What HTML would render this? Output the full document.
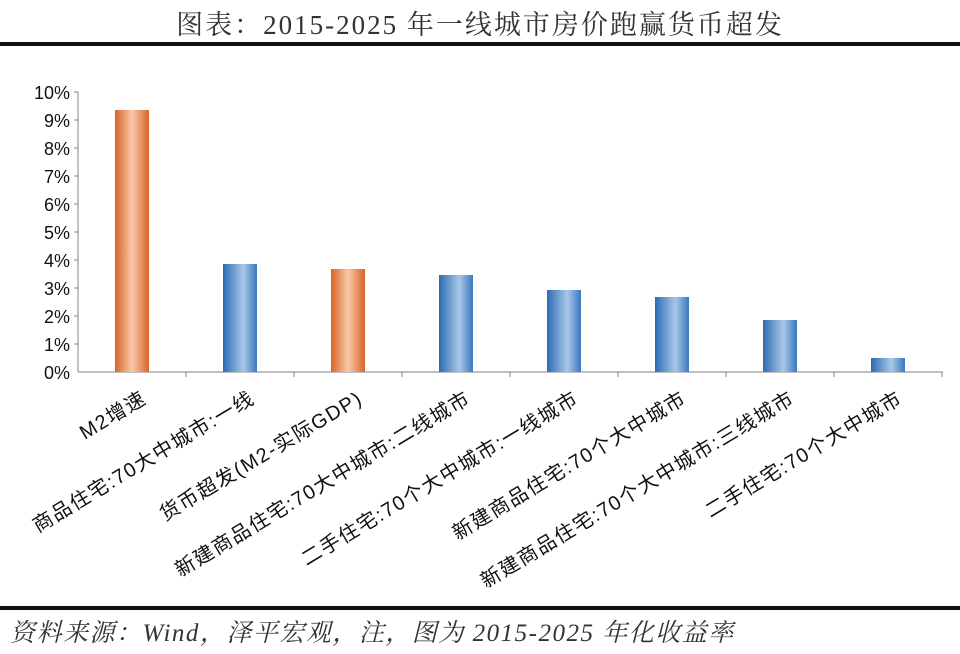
<!DOCTYPE html>
<html><head><meta charset="utf-8"><style>
html,body{margin:0;padding:0;background:#fff;}
</style></head><body>
<svg width="960" height="649" viewBox="0 0 960 649" xmlns="http://www.w3.org/2000/svg">
<defs>
<linearGradient id="o" x1="0" x2="1" y1="0" y2="0">
<stop offset="0" stop-color="#d9652a"/><stop offset="0.5" stop-color="#f8c8a8"/><stop offset="1" stop-color="#d9652a"/>
</linearGradient>
<linearGradient id="b" x1="0" x2="1" y1="0" y2="0">
<stop offset="0" stop-color="#2d6bb5"/><stop offset="0.6" stop-color="#a9c6e6"/><stop offset="1" stop-color="#3a78c0"/>
</linearGradient>
</defs>
<text x="480" y="34" text-anchor="middle" font-family="'Liberation Serif','Noto Serif CJK SC',serif" font-size="27" letter-spacing="2" fill="#333">图表：2015-2025 年一线城市房价跑赢货币超发</text>
<rect x="0" y="42" width="960" height="4" fill="#111"/>
<g font-family="'Liberation Sans','Noto Sans CJK SC',sans-serif" font-size="18" fill="#111" text-anchor="end">
<text x="70" y="99">10%</text><text x="70" y="127">9%</text><text x="70" y="155">8%</text><text x="70" y="183">7%</text><text x="70" y="211">6%</text><text x="70" y="239">5%</text><text x="70" y="267">4%</text><text x="70" y="295">3%</text><text x="70" y="323">2%</text><text x="70" y="351">1%</text><text x="70" y="379">0%</text>
</g>
<g stroke="#999" stroke-width="1.2">
<line x1="78" y1="92" x2="78" y2="372"/>
<line x1="78" y1="372" x2="943" y2="372"/>
<line x1="74" y1="92" x2="78" y2="92"/><line x1="74" y1="120" x2="78" y2="120"/><line x1="74" y1="148" x2="78" y2="148"/><line x1="74" y1="176" x2="78" y2="176"/><line x1="74" y1="204" x2="78" y2="204"/><line x1="74" y1="232" x2="78" y2="232"/><line x1="74" y1="260" x2="78" y2="260"/><line x1="74" y1="288" x2="78" y2="288"/><line x1="74" y1="316" x2="78" y2="316"/><line x1="74" y1="344" x2="78" y2="344"/>
<line x1="186" y1="372" x2="186" y2="377"/><line x1="294" y1="372" x2="294" y2="377"/><line x1="402" y1="372" x2="402" y2="377"/><line x1="510" y1="372" x2="510" y2="377"/><line x1="618" y1="372" x2="618" y2="377"/><line x1="726" y1="372" x2="726" y2="377"/><line x1="834" y1="372" x2="834" y2="377"/><line x1="942" y1="372" x2="942" y2="377"/>
</g>
<rect x="115" y="110" width="34" height="262" fill="url(#o)"/>
<rect x="223" y="264" width="34" height="108" fill="url(#b)"/>
<rect x="331" y="269" width="34" height="103" fill="url(#o)"/>
<rect x="439" y="275" width="34" height="97" fill="url(#b)"/>
<rect x="547" y="290" width="34" height="82" fill="url(#b)"/>
<rect x="655" y="297" width="34" height="75" fill="url(#b)"/>
<rect x="763" y="320" width="34" height="52" fill="url(#b)"/>
<rect x="871" y="358" width="34" height="14" fill="url(#b)"/>
<g font-family="'Liberation Sans','Noto Sans CJK SC',sans-serif" font-size="20" letter-spacing="1.5" fill="#111" text-anchor="end">
<text transform="translate(148,402) rotate(-31)">M2增速</text>
<text transform="translate(256,402) rotate(-31)">商品住宅:70大中城市:一线</text>
<text transform="translate(364,402) rotate(-31)">货币超发(M2-实际GDP)</text>
<text transform="translate(472,402) rotate(-31)">新建商品住宅:70大中城市:二线城市</text>
<text transform="translate(580,402) rotate(-31)">二手住宅:70个大中城市:一线城市</text>
<text transform="translate(688,402) rotate(-31)">新建商品住宅:70个大中城市</text>
<text transform="translate(796,402) rotate(-31)">新建商品住宅:70个大中城市:三线城市</text>
<text transform="translate(904,402) rotate(-31)">二手住宅:70个大中城市</text>
</g>
<rect x="0" y="606" width="960" height="4" fill="#111"/>
<text x="10" y="641" font-family="'Liberation Serif','Noto Serif CJK SC',serif" font-style="italic" font-size="25" letter-spacing="1.5" fill="#333">资料来源：Wind，泽平宏观，注，图为 2015-2025 年化收益率</text>
</svg>
</body></html>
